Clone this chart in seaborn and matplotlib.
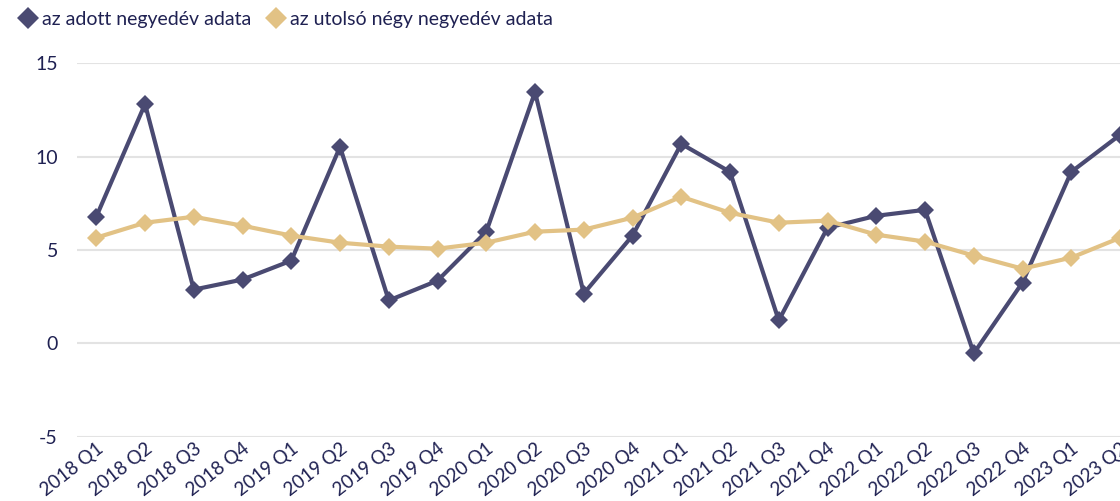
import numpy as np
import pandas as pd
import matplotlib
matplotlib.use("Agg")
import matplotlib.pyplot as plt
import seaborn as sns

quarters = [f"{y} Q{q}" for y in range(2018, 2024) for q in range(1, 5)][:22]
adott = [6.78, 12.81, 2.88, 3.42, 4.43, 10.52, 2.30, 3.36, 5.98, 13.45, 2.67,
         5.77, 10.68, 9.18, 1.23, 6.19, 6.83, 7.15, -0.53, 3.26, 9.18, 11.16]
utolso = [5.66, 6.46, 6.78, 6.30, 5.77, 5.39, 5.18, 5.07, 5.39, 5.98, 6.09,
          6.73, 7.85, 6.99, 6.46, 6.57, 5.82, 5.45, 4.70, 4.00, 4.59, 5.65]
series_names = ["az adott negyedév adata", "az utolsó négy negyedév adata"]
colors = ["#4a4a72", "#e2c285"]
text_color = "#1f2152"

sns.set_style("white")
plt.rcParams["font.family"] = ["Lato", "DejaVu Sans"]
plt.rcParams["axes.unicode_minus"] = False

df = pd.DataFrame({
    "idx": list(range(len(quarters))) * 2,
    "value": adott + utolso,
    "series": [series_names[0]] * len(adott) + [series_names[1]] * len(utolso),
})

fig = plt.figure(figsize=(11.2, 5.01), dpi=100)
ax = fig.add_axes([0.069, 0.128, 0.931, 0.746])

sns.lineplot(data=df, x="idx", y="value", hue="series", style="series",
             markers=["D", "D"], dashes=False, palette=colors, linewidth=3,
             markersize=9, markeredgewidth=0, ax=ax, hue_order=series_names,
             style_order=series_names)

ax.set_ylim(-5, 15)
ax.set_xlim(-0.39, 21)
ax.set_yticks([-5, 0, 5, 10, 15])
ax.set_xticks(range(len(quarters)))
ax.set_xticklabels(quarters, rotation=38, ha="right", rotation_mode="anchor")
ax.grid(axis="y", color="#e3e3e3", linewidth=1.5)
ax.set_axisbelow(True)
for s in ax.spines.values():
    s.set_visible(False)
ax.tick_params(axis="both", length=0, labelsize=14, colors=text_color)
ax.tick_params(axis="x", labelsize=13.5, pad=2)
ax.tick_params(axis="y", pad=14)
ax.set_xlabel("")
ax.set_ylabel("")

handles, labels = ax.get_legend_handles_labels()
for h in handles:
    h.set_linestyle("none")
    h.set_markersize(11)
leg = ax.legend(handles, labels, loc="upper left", bbox_to_anchor=(-0.062, 1.16),
                ncol=2, frameon=False, fontsize=14, handlelength=0.8,
                handletextpad=0.3, columnspacing=0.9, borderaxespad=0)
for t in leg.get_texts():
    t.set_color(text_color)

fig.savefig("out.png", dpi=100)
